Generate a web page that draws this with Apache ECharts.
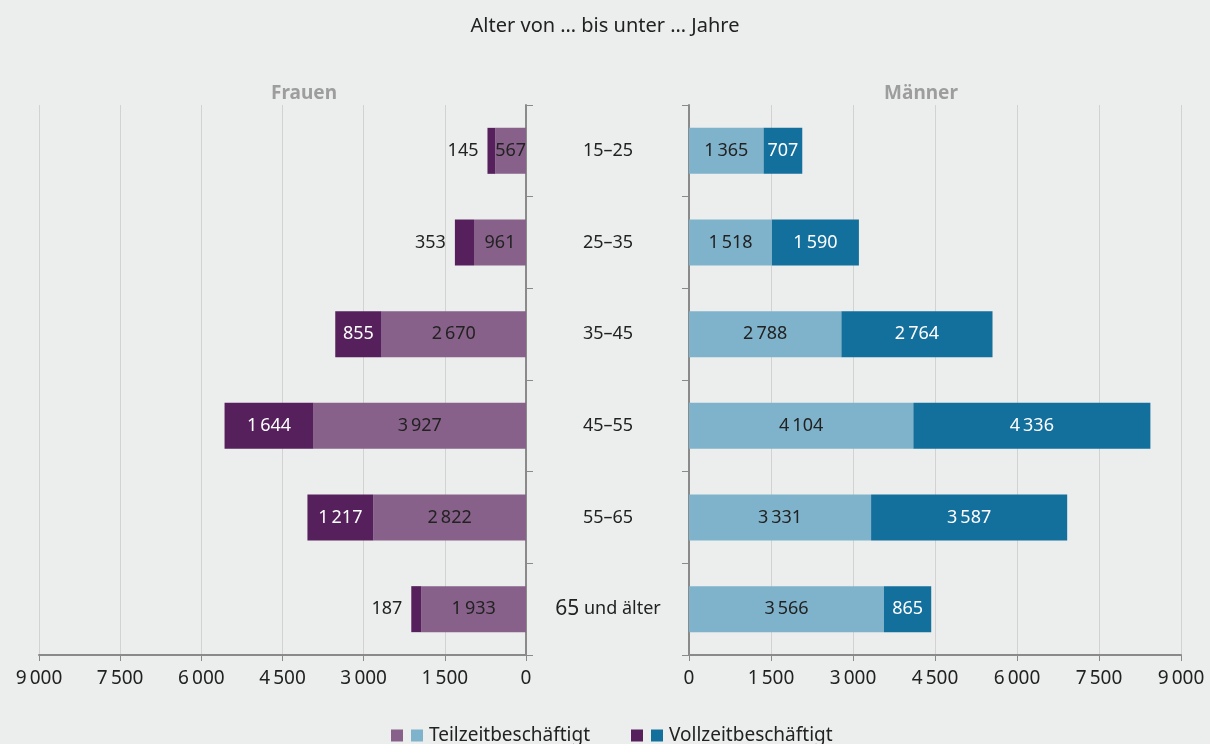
<!DOCTYPE html>
<html>
<head>
<meta charset="utf-8">
<script src="https://cdn.jsdelivr.net/npm/echarts@6/dist/echarts.min.js"></script>
<style>
  html, body { margin: 0; padding: 0; background: #eceeed; }
  #chart { width: 1210px; height: 744px; }
</style>
</head>
<body>
<div id="chart"></div>
<script>
// Altersgruppen (von oben nach unten)
const ageGroups = ['15–25', '25–35', '35–45', '45–55', '55–65', '65 und älter']

// Frauen
const womenPart = [567, 961, 2670, 3927, 2822, 1933]
const womenFull = [145, 353, 855, 1644, 1217, 187]

// Männer
const menPart = [1365, 1518, 2788, 4104, 3331, 3566]
const menFull = [707, 1590, 2764, 4336, 3587, 865]

const axisMax = 9000
const axisStep = 1500

const fontFamily = '"Noto Sans", "Open Sans", sans-serif'
const textColor = '#222'

// 1 500 -> thin space as thousands separator
const fmt = (v) => String(v).replace(/\B(?=(\d{3})+(?!\d))/g, '\u2009')

const chart = echarts.init(document.getElementById('chart'))

const valueAxis = (gridIndex, inverse) => ({
  type: 'value',
  gridIndex,
  inverse,
  min: 0,
  max: axisMax,
  interval: axisStep,
  axisLine: { show: true, lineStyle: { color: '#8a8a8a', width: 2 } },
  axisTick: { show: true, length: 6, lineStyle: { color: '#8a8a8a' } },
  axisLabel: { color: textColor, fontSize: 19, fontFamily, margin: 14, formatter: fmt },
  splitLine: { show: true, lineStyle: { color: '#d2d2d2', width: 1 } }
})

const categoryAxis = (gridIndex, position, showLabel) => ({
  type: 'category',
  gridIndex,
  data: ageGroups,
  inverse: true,
  position,
  axisLine: { show: true, lineStyle: { color: '#8a8a8a', width: 2 } },
  axisTick: { show: true, length: 7, lineStyle: { color: '#8a8a8a' } },
  axisLabel: {
    show: showLabel,
    color: textColor,
    fontSize: 18,
    fontFamily,
    align: 'center',
    margin: 81,
    formatter: (v) => v.replace(/^65 /, '{big|65} '),
    rich: { big: { fontSize: 21, fontFamily, color: textColor } }
  },
  splitLine: { show: false }
})

// small segments get their label outside the bar
const withLabels = (values, color) =>
  values.map((v) => (v < 500
    ? { value: v, label: { position: 'left', color: textColor, distance: 9 } }
    : { value: v, label: { color } }))

const barSeries = (name, xi, values, color, labelColor) => ({
  name,
  type: 'bar',
  xAxisIndex: xi,
  yAxisIndex: xi,
  stack: 'g' + xi,
  barWidth: 46,
  data: withLabels(values, labelColor),
  itemStyle: { color },
  label: {
    show: true,
    position: 'inside',
    fontSize: 18,
    fontFamily,
    formatter: (p) => fmt(p.value)
  }
})

// legend: series colour icon + second square (Männer colour) via rich text
const legendBase = (left, name, extraColor) => ({
  top: 721,
  left,
  itemWidth: 12,
  itemHeight: 12,
  icon: 'rect',
  data: [name],
  textStyle: {
    color: textColor,
    fontSize: 19,
    fontFamily,
    rich: {
      pre: { width: 3 },
      sq: { width: 12, height: 12, backgroundColor: extraColor },
      gap: { width: 6 },
      t: { fontSize: 19, fontFamily, color: textColor }
    }
  },
  formatter: (n) => '{pre|}{sq|}{gap|}{t|' + n + '}'
})

chart.setOption({
  backgroundColor: '#eceeed',
  animation: false,
  title: [
    { text: 'Alter von … bis unter … Jahre', left: 'center', top: 11,
      textStyle: { fontSize: 20, fontWeight: 'normal', color: textColor, fontFamily } },
    { text: 'Frauen', left: 299, top: 79, textAlign: 'center',
      textStyle: { fontSize: 19, fontWeight: 'bold', color: '#9d9d9d', fontFamily } },
    { text: 'Männer', left: 916, top: 79, textAlign: 'center',
      textStyle: { fontSize: 19, fontWeight: 'bold', color: '#9d9d9d', fontFamily } }
  ],
  grid: [
    { left: 39, width: 487, top: 105, height: 550 },
    { left: 689, width: 492, top: 105, height: 550 }
  ],
  xAxis: [valueAxis(0, true), valueAxis(1, false)],
  yAxis: [categoryAxis(0, 'right', false), categoryAxis(1, 'left', true)],
  legend: [
    legendBase(386, 'Teilzeitbeschäftigt', '#7fb3cb'),
    legendBase(626, 'Vollzeitbeschäftigt', '#136f9c')
  ],
  series: [
    barSeries('Teilzeitbeschäftigt', 0, womenPart, '#87618a', textColor),
    barSeries('Vollzeitbeschäftigt', 0, womenFull, '#56205d', '#fff'),
    barSeries('Teilzeitbeschäftigt', 1, menPart, '#7fb3cb', textColor),
    barSeries('Vollzeitbeschäftigt', 1, menFull, '#136f9c', '#fff')
  ]
})
</script>
</body>
</html>
